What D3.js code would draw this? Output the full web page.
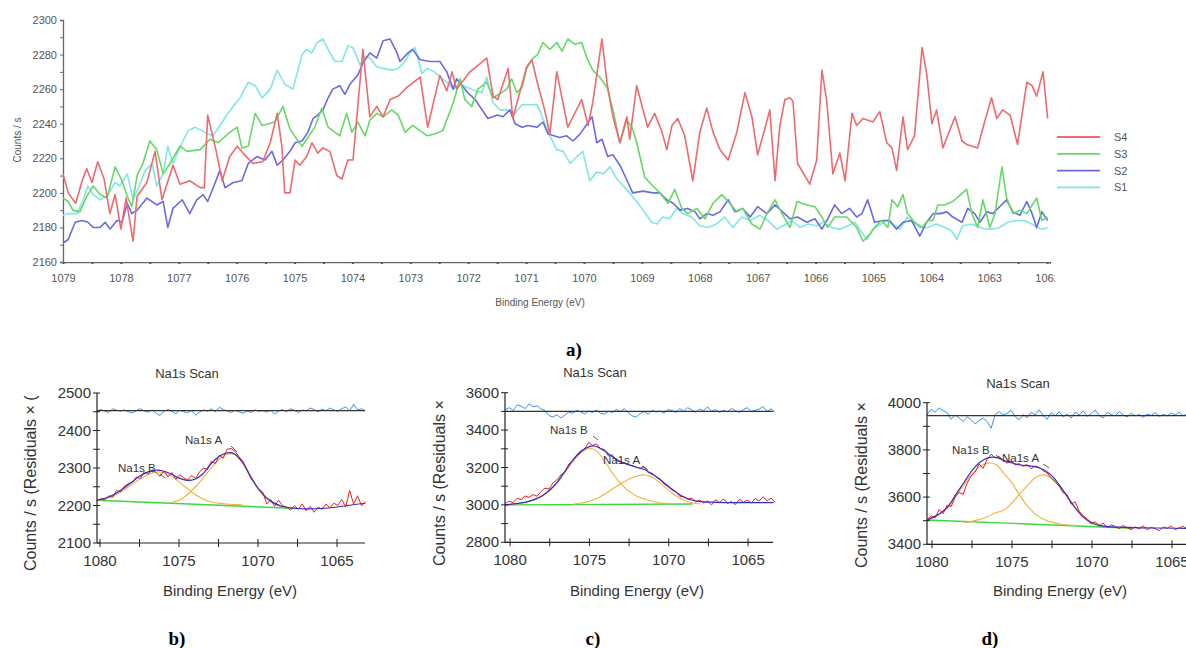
<!DOCTYPE html>
<html>
<head>
<meta charset="utf-8">
<script src="https://cdn.jsdelivr.net/npm/d3@7"></script>
<style>
  body { margin: 0; background: #fff; }
  svg { display: block; }
  text { font-family: "Liberation Sans", Arial, sans-serif; }
</style>
</head>
<body>
<svg id="chart" width="1186" height="648"></svg>
<script>
// ---- panel a: four Na1s survey traces, [binding energy eV, counts/s]
const seriesNames = ["S4", "S3", "S2", "S1"]
const seriesColors = ["#ee6a6d", "#66d866", "#6a6ae4", "#80e6e6"]

const s4 = [[1079.00,2211],[1078.91,2200],[1078.78,2194],[1078.67,2207],[1078.59,2214],[1078.50,2206],[1078.40,2218],[1078.29,2208],[1078.19,2188],[1078.10,2199],[1078.00,2179],[1077.91,2197],[1077.79,2172],[1077.72,2198],[1077.55,2206],[1077.41,2224],[1077.29,2196],[1077.10,2216],[1076.98,2205],[1076.81,2207],[1076.63,2203],[1076.56,2203],[1076.50,2245],[1076.36,2225],[1076.25,2207],[1076.12,2221],[1075.99,2227],[1075.89,2223],[1075.72,2217],[1075.55,2218],[1075.42,2229],[1075.30,2246],[1075.22,2227],[1075.17,2200],[1075.08,2200],[1074.99,2219],[1074.91,2216],[1074.79,2221],[1074.70,2229],[1074.60,2223],[1074.51,2226],[1074.39,2224],[1074.27,2210],[1074.18,2208],[1074.08,2219],[1073.99,2219],[1073.82,2283],[1073.70,2244],[1073.58,2250],[1073.47,2244],[1073.35,2254],[1073.21,2256],[1073.06,2261],[1072.83,2267],[1072.70,2238],[1072.49,2268],[1072.37,2259],[1072.28,2270],[1072.20,2260],[1071.97,2270],[1071.68,2278],[1071.57,2256],[1071.49,2254],[1071.31,2272],[1071.23,2243],[1070.99,2273],[1070.90,2277],[1070.80,2263],[1070.68,2248],[1070.59,2234],[1070.47,2270],[1070.28,2238],[1070.04,2254],[1069.93,2239],[1069.85,2252],[1069.69,2289],[1069.60,2263],[1069.50,2244],[1069.38,2229],[1069.26,2244],[1069.21,2231],[1069.09,2262],[1068.98,2248],[1068.90,2238],[1068.78,2246],[1068.66,2236],[1068.57,2225],[1068.48,2239],[1068.38,2243],[1068.26,2233],[1068.12,2207],[1068.00,2235],[1067.88,2249],[1067.77,2235],[1067.65,2225],[1067.51,2219],[1067.36,2235],[1067.22,2258],[1067.10,2244],[1067.00,2222],[1066.87,2238],[1066.79,2248],[1066.70,2207],[1066.62,2238],[1066.53,2254],[1066.44,2255],[1066.39,2253],[1066.31,2217],[1066.10,2205],[1065.98,2219],[1065.89,2271],[1065.81,2254],[1065.70,2211],[1065.58,2223],[1065.49,2207],[1065.37,2246],[1065.29,2239],[1065.18,2243],[1065.01,2241],[1064.89,2247],[1064.77,2229],[1064.68,2226],[1064.60,2213],[1064.49,2244],[1064.41,2225],[1064.29,2233],[1064.16,2284],[1064.08,2269],[1063.99,2240],[1063.91,2248],[1063.80,2226],[1063.59,2244],[1063.47,2230],[1063.39,2228],[1063.20,2226],[1063.08,2241],[1062.96,2255],[1062.87,2243],[1062.77,2248],[1062.64,2245],[1062.51,2228],[1062.35,2264],[1062.26,2262],[1062.18,2256],[1062.07,2270],[1061.99,2243]]

const s3 = [[1079.00,2197],[1078.91,2195],[1078.83,2190],[1078.71,2189],[1078.59,2198],[1078.48,2204],[1078.36,2199],[1078.24,2197],[1078.10,2215],[1077.98,2207],[1077.89,2198],[1077.81,2192],[1077.72,2210],[1077.62,2217],[1077.50,2230],[1077.38,2225],[1077.27,2211],[1077.15,2217],[1076.98,2227],[1076.86,2224],[1076.63,2225],[1076.46,2231],[1076.32,2229],[1076.12,2235],[1075.99,2238],[1075.91,2226],[1075.80,2227],[1075.68,2246],[1075.56,2239],[1075.34,2241],[1075.20,2250],[1075.08,2237],[1074.96,2231],[1074.87,2227],[1074.65,2238],[1074.53,2249],[1074.42,2238],[1074.22,2233],[1074.10,2246],[1074.01,2235],[1073.91,2241],[1073.78,2233],[1073.70,2242],[1073.58,2246],[1073.47,2244],[1073.32,2248],[1073.21,2245],[1073.09,2235],[1072.96,2239],[1072.71,2233],[1072.58,2234],[1072.44,2236],[1072.26,2252],[1072.14,2266],[1072.06,2254],[1071.94,2250],[1071.83,2260],[1071.68,2264],[1071.57,2255],[1071.33,2260],[1071.25,2266],[1071.16,2258],[1071.07,2261],[1070.99,2272],[1070.88,2278],[1070.80,2280],[1070.71,2287],[1070.59,2283],[1070.47,2287],[1070.38,2282],[1070.28,2289],[1070.16,2286],[1070.04,2287],[1069.95,2278],[1069.85,2271],[1069.73,2267],[1069.60,2261],[1069.50,2248],[1069.38,2229],[1069.26,2242],[1069.17,2238],[1069.09,2229],[1068.95,2209],[1068.81,2204],[1068.69,2200],[1068.55,2194],[1068.43,2202],[1068.31,2191],[1068.21,2188],[1068.05,2191],[1067.91,2185],[1067.77,2194],[1067.62,2199],[1067.51,2195],[1067.36,2189],[1067.26,2191],[1067.10,2182],[1066.96,2179],[1066.84,2188],[1066.70,2196],[1066.58,2188],[1066.44,2180],[1066.32,2195],[1066.15,2193],[1066.01,2192],[1065.89,2186],[1065.79,2180],[1065.67,2186],[1065.46,2186],[1065.29,2180],[1065.18,2172],[1065.06,2176],[1064.98,2180],[1064.86,2184],[1064.75,2180],[1064.68,2196],[1064.58,2192],[1064.49,2199],[1064.41,2188],[1064.29,2183],[1064.16,2180],[1064.06,2184],[1063.97,2184],[1063.89,2193],[1063.77,2193],[1063.63,2195],[1063.39,2202],[1063.30,2188],[1063.20,2180],[1063.11,2196],[1062.99,2180],[1062.90,2188],[1062.78,2215],[1062.70,2197],[1062.59,2188],[1062.47,2190],[1062.35,2188],[1062.18,2197],[1062.09,2184],[1061.99,2186]]

const s2 = [[1079.00,2171],[1078.91,2173],[1078.79,2183],[1078.67,2184],[1078.57,2183],[1078.48,2180],[1078.36,2180],[1078.27,2183],[1078.19,2179],[1078.07,2184],[1077.98,2183],[1077.89,2194],[1077.81,2188],[1077.72,2190],[1077.55,2197],[1077.38,2193],[1077.27,2195],[1077.19,2180],[1077.10,2191],[1076.94,2196],[1076.81,2188],[1076.69,2196],[1076.58,2199],[1076.50,2195],[1076.37,2206],[1076.29,2213],[1076.20,2203],[1076.06,2206],[1075.91,2207],[1075.80,2217],[1075.65,2221],[1075.51,2219],[1075.39,2224],[1075.30,2216],[1075.20,2219],[1075.08,2224],[1074.99,2229],[1074.87,2230],[1074.77,2235],[1074.68,2243],[1074.60,2245],[1074.51,2248],[1074.42,2255],[1074.34,2260],[1074.22,2262],[1074.13,2257],[1074.04,2263],[1073.91,2268],[1073.82,2275],[1073.70,2281],[1073.58,2278],[1073.47,2288],[1073.35,2289],[1073.23,2281],[1073.18,2276],[1073.04,2281],[1072.96,2283],[1072.83,2277],[1072.66,2276],[1072.49,2276],[1072.37,2270],[1072.26,2260],[1072.20,2266],[1072.01,2258],[1071.88,2254],[1071.76,2248],[1071.66,2243],[1071.50,2245],[1071.40,2244],[1071.28,2248],[1071.19,2240],[1071.07,2238],[1070.97,2239],[1070.81,2238],[1070.71,2241],[1070.62,2234],[1070.42,2232],[1070.30,2233],[1070.19,2230],[1070.07,2234],[1069.86,2244],[1069.78,2229],[1069.69,2231],[1069.59,2221],[1069.50,2222],[1069.38,2216],[1069.24,2206],[1069.16,2200],[1068.98,2201],[1068.81,2200],[1068.69,2200],[1068.57,2196],[1068.46,2194],[1068.34,2190],[1068.21,2191],[1068.08,2189],[1068.00,2185],[1067.88,2188],[1067.77,2187],[1067.65,2189],[1067.51,2196],[1067.39,2189],[1067.26,2191],[1067.13,2186],[1067.00,2192],[1066.84,2188],[1066.70,2193],[1066.44,2185],[1066.31,2186],[1066.15,2183],[1066.01,2185],[1065.89,2179],[1065.79,2185],[1065.67,2193],[1065.55,2188],[1065.41,2191],[1065.29,2186],[1065.20,2188],[1065.10,2196],[1064.98,2183],[1064.84,2184],[1064.72,2184],[1064.60,2179],[1064.49,2183],[1064.34,2184],[1064.20,2175],[1064.08,2183],[1063.97,2188],[1063.85,2188],[1063.73,2189],[1063.63,2186],[1063.47,2183],[1063.37,2191],[1063.25,2188],[1063.16,2183],[1063.04,2189],[1062.94,2188],[1062.70,2196],[1062.59,2189],[1062.47,2187],[1062.35,2195],[1062.26,2188],[1062.18,2180],[1062.09,2189],[1061.99,2184]]

const s1 = [[1079.00,2187],[1078.91,2188],[1078.76,2188],[1078.65,2196],[1078.57,2204],[1078.48,2199],[1078.36,2196],[1078.24,2198],[1078.10,2206],[1078.02,2204],[1077.89,2211],[1077.79,2196],[1077.67,2205],[1077.58,2213],[1077.46,2217],[1077.38,2204],[1077.27,2211],[1077.19,2227],[1077.10,2217],[1076.94,2229],[1076.84,2236],[1076.72,2238],[1076.60,2236],[1076.50,2234],[1076.41,2233],[1076.29,2239],[1076.17,2245],[1076.06,2250],[1075.94,2255],[1075.80,2264],[1075.68,2262],[1075.56,2255],[1075.42,2260],[1075.30,2271],[1075.17,2263],[1075.03,2260],[1074.87,2280],[1074.79,2283],[1074.70,2281],[1074.61,2287],[1074.51,2289],[1074.42,2283],[1074.30,2276],[1074.18,2276],[1074.08,2285],[1073.99,2284],[1073.87,2274],[1073.78,2279],[1073.70,2278],[1073.58,2273],[1073.47,2272],[1073.32,2271],[1073.21,2272],[1073.09,2276],[1073.01,2281],[1072.92,2284],[1072.80,2269],[1072.71,2272],[1072.58,2270],[1072.49,2267],[1072.37,2264],[1072.26,2260],[1072.14,2263],[1072.01,2261],[1071.88,2259],[1071.76,2258],[1071.68,2267],[1071.57,2252],[1071.45,2248],[1071.33,2248],[1071.19,2246],[1071.07,2251],[1070.81,2251],[1070.71,2243],[1070.59,2233],[1070.47,2225],[1070.36,2224],[1070.24,2217],[1070.12,2221],[1070.02,2224],[1069.90,2207],[1069.78,2212],[1069.67,2211],[1069.55,2215],[1069.43,2208],[1069.24,2201],[1069.09,2195],[1068.98,2190],[1068.83,2183],[1068.74,2182],[1068.64,2186],[1068.52,2185],[1068.40,2191],[1068.29,2188],[1068.14,2186],[1068.00,2181],[1067.86,2180],[1067.71,2182],[1067.57,2186],[1067.43,2180],[1067.27,2186],[1067.13,2184],[1066.96,2187],[1066.82,2184],[1066.67,2179],[1066.56,2181],[1066.41,2184],[1066.27,2180],[1066.13,2182],[1065.98,2181],[1065.87,2183],[1065.72,2180],[1065.58,2179],[1065.44,2181],[1065.32,2183],[1065.24,2179],[1065.11,2173],[1065.01,2179],[1064.77,2184],[1064.54,2179],[1064.42,2186],[1064.32,2183],[1064.20,2180],[1064.06,2180],[1063.91,2182],[1063.77,2180],[1063.65,2178],[1063.56,2173],[1063.46,2181],[1063.30,2182],[1063.16,2180],[1063.04,2179],[1062.94,2179],[1062.82,2180],[1062.68,2183],[1062.52,2184],[1062.39,2184],[1062.26,2182],[1062.18,2180],[1062.07,2179],[1061.99,2180]]

// ---- panels b, c, d: Na1s fits
const scanStep = 0.25
const bScanStart = 1080.2
const bScan = [2212,2218,2214,2226,2222,2240,2236,2252,2258,2262,2276,2272,2290,2284,2296,2288,2278,2292,2276,2288,2270,2282,2274,2268,2280,2272,2290,2300,2296,2318,2312,2334,2326,2350,2352,2344,2330,2318,2296,2272,2258,2244,2236,2204,2216,2198,2214,2200,2196,2188,2200,2190,2204,2186,2198,2182,2196,2190,2204,2194,2206,2200,2216,2196,2240,2204,2226,2200,2210]
const bResid = [2450,2456,2452,2448,2458,2454,2452,2455,2450,2447,2453,2458,2452,2449,2455,2446,2440,2452,2456,2451,2445,2454,2450,2448,2453,2441,2449,2455,2452,2458,2450,2462,2456,2452,2448,2454,2450,2446,2452,2448,2455,2451,2453,2449,2454,2444,2452,2456,2450,2458,2454,2448,2455,2452,2460,2456,2450,2457,2453,2460,2455,2451,2458,2463,2452,2470,2455,2458,2452]
const bEnvelope = [[1080.2,2214],[1079.5,2222],[1079,2232],[1078.5,2246],[1078,2262],[1077.5,2278],[1077,2289],[1076.5,2294],[1076,2292],[1075.5,2284],[1075,2273],[1074.5,2267],[1074,2270],[1073.5,2284],[1073,2310],[1072.5,2330],[1072,2340],[1071.5,2338],[1071,2316],[1070.5,2280],[1070,2246],[1069.5,2222],[1069,2207],[1068.5,2198],[1068,2194],[1067,2191],[1066,2192],[1065,2196],[1064,2202],[1063.2,2206]]
const bPeakB = [[1080.2,2214],[1079.5,2220],[1079,2228],[1078.5,2241],[1078,2256],[1077.5,2270],[1077,2282],[1076.5,2289],[1076,2288],[1075.5,2279],[1075,2263],[1074.5,2246],[1074,2230],[1073.5,2218],[1073,2210],[1072.5,2206],[1072,2204],[1071,2202]]
const bPeakA = [[1075.5,2208],[1075,2214],[1074.5,2228],[1074,2248],[1073.5,2272],[1073,2298],[1072.5,2322],[1072,2337],[1071.5,2336],[1071,2314],[1070.5,2278],[1070,2244],[1069.5,2220],[1069,2205],[1068.5,2197],[1068,2194],[1067.5,2192]]
const bBackground = [[1080.2,2214],[1067.5,2192]]

const cScanStart = 1080.3
const cScan = [3008,3020,3012,3036,3028,3048,3040,3055,3046,3072,3090,3084,3118,3134,3160,3176,3218,3236,3262,3280,3300,3334,3318,3326,3300,3296,3262,3268,3236,3230,3222,3214,3210,3202,3196,3206,3172,3170,3150,3140,3112,3098,3080,3070,3046,3044,3030,3036,3016,3026,3010,3022,3000,3028,3012,3032,3008,3018,3002,3030,3014,3026,3010,3034,3020,3044,3022,3036,3016]
const cResid = [3510,3520,3505,3535,3528,3515,3540,3525,3530,3512,3505,3478,3470,3482,3465,3480,3496,3490,3505,3498,3486,3502,3494,3508,3490,3486,3500,3494,3510,3498,3515,3492,3476,3470,3488,3500,3484,3506,3496,3502,3490,3510,3505,3494,3515,3500,3520,3508,3496,3512,3505,3524,3500,3510,3494,3506,3498,3516,3504,3494,3510,3520,3500,3506,3512,3526,3500,3514,3496]
const cEnvelope = [[1080.3,3000],[1079.5,3008],[1079,3015],[1078.5,3028],[1078,3048],[1077.5,3080],[1077,3125],[1076.5,3185],[1076,3245],[1075.5,3290],[1075,3312],[1074.7,3315],[1074.3,3302],[1074,3285],[1073.5,3255],[1073,3230],[1072.5,3214],[1072,3200],[1071.5,3188],[1071,3162],[1070.5,3132],[1070,3098],[1069.5,3066],[1069,3040],[1068.5,3025],[1068,3018],[1067,3014],[1066,3012],[1065,3012],[1063.4,3012]]
const cPeakB = [[1080.3,3000],[1079.5,3007],[1079,3014],[1078.5,3026],[1078,3046],[1077.5,3077],[1077,3120],[1076.5,3178],[1076,3236],[1075.5,3280],[1075,3303],[1074.5,3285],[1074,3228],[1073.5,3165],[1073,3112],[1072.5,3072],[1072,3046],[1071.5,3030],[1071,3018],[1070.5,3010],[1070,3006]]
const cPeakA = [[1076,3003],[1075.5,3010],[1075,3020],[1074.5,3036],[1074,3060],[1073.5,3088],[1073,3114],[1072.5,3138],[1072,3155],[1071.5,3160],[1071,3146],[1070.5,3114],[1070,3078],[1069.5,3046],[1069,3024],[1068.5,3010],[1068,3005]]
const cBackground = [[1080.3,3000],[1068.5,3005]]

const dScanStart = 1080.3
const dScan = [3505,3520,3512,3548,3530,3566,3560,3600,3620,3612,3660,3690,3706,3740,3722,3760,3782,3766,3772,3756,3744,3752,3736,3742,3730,3738,3720,3732,3726,3712,3702,3680,3664,3646,3618,3610,3570,3580,3540,3520,3508,3486,3496,3478,3490,3470,3482,3476,3466,3480,3470,3462,3474,3466,3478,3462,3472,3466,3458,3474,3468,3478,3462,3470,3476,3464]
const dResid = [3950,3972,3960,3978,3966,3958,3930,3948,3935,3920,3940,3928,3910,3925,3935,3920,3892,3950,3962,3948,3955,3968,3940,3928,3950,3936,3960,3948,3970,3945,3930,3958,3944,3962,3940,3952,3935,3960,3948,3966,3942,3955,3968,3946,3936,3960,3950,3944,3962,3948,3940,3956,3944,3950,3938,3952,3946,3958,3942,3950,3944,3956,3948,3960,3944,3952]
const dEnvelope = [[1080.3,3503],[1079.5,3531],[1079,3560],[1078.5,3612],[1078,3662],[1077.5,3712],[1077,3748],[1076.5,3766],[1076,3768],[1075.5,3755],[1075,3745],[1074.5,3736],[1074,3733],[1073.5,3728],[1073,3715],[1072.5,3690],[1072,3648],[1071.5,3598],[1071,3550],[1070.5,3512],[1070,3490],[1069.5,3479],[1069,3475],[1068,3472],[1067,3470],[1066,3469],[1063.3,3467]]
const dPeakB = [[1080.3,3503],[1079.5,3528],[1079,3555],[1078.5,3605],[1078,3652],[1077.5,3698],[1077,3730],[1076.5,3744],[1076,3738],[1075.5,3700],[1075,3660],[1074.5,3605],[1074,3560],[1073.5,3526],[1073,3505],[1072.5,3493],[1072,3486],[1071.5,3482],[1071,3480]]
const dPeakA = [[1078,3492],[1077.5,3498],[1077,3506],[1076.5,3518],[1076,3534],[1075.5,3545],[1075,3575],[1074.5,3615],[1074,3652],[1073.5,3684],[1073,3694],[1072.5,3680],[1072,3645],[1071.5,3598],[1071,3552],[1070.5,3515],[1070,3494],[1069.5,3482],[1069,3476]]
const dBackground = [[1080.3,3503],[1067.5,3468]]

const panelLetters = ["b)", "c)", "d)"]

const svg = d3.select("#chart")
svg.append("rect").attr("width", 1186).attr("height", 648).attr("fill", "#fff")

// ================= panel a =================
const ax = d3.scaleLinear().domain([1079, 1061.95]).range([63, 1050])
const ay = d3.scaleLinear().domain([2160, 2300]).range([262, 20])

svg.append("clipPath").attr("id", "aclip")
  .append("rect").attr("x", 0).attr("y", 0).attr("width", 1055).attr("height", 300)

const xAxisA = svg.append("g")
  .attr("transform", "translate(0,262)")
  .attr("clip-path", "url(#aclip)")
  .call(d3.axisBottom(ax)
    .tickValues(d3.range(1079, 1061.9, -0.5))
    .tickSize(2)
    .tickPadding(10)
    .tickFormat(d => Number.isInteger(d) ? d : ""))
xAxisA.select(".domain").attr("stroke", "#666").attr("stroke-width", 1.3)
xAxisA.selectAll(".tick line").attr("stroke", "#555").attr("stroke-width", 2).attr("y1", -1)
xAxisA.selectAll("text").attr("fill", "#555").style("font-size", "11px")

const yAxisA = svg.append("g")
  .attr("transform", "translate(63,0)")
  .call(d3.axisLeft(ay)
    .tickValues(d3.range(2160, 2301, 10))
    .tickSize(3)
    .tickPadding(3)
    .tickFormat(d => d % 20 === 0 ? d : ""))
yAxisA.select(".domain").attr("stroke", "#666").attr("stroke-width", 1.3)
yAxisA.selectAll(".tick line").attr("stroke", "#666")
yAxisA.selectAll("text").attr("fill", "#555").style("font-size", "11px")

const lineA = d3.line().x(d => ax(d[0])).y(d => ay(d[1]))
const topSeries = [s4, s3, s2, s1]
// draw S1 first so red sits on top
for (let i = topSeries.length - 1; i >= 0; i--) {
  svg.append("path")
    .datum(topSeries[i])
    .attr("fill", "none")
    .attr("stroke", seriesColors[i])
    .attr("stroke-width", 1.6)
    .attr("stroke-linejoin", "round")
    .attr("d", lineA)
}

const legend = svg.append("g")
seriesNames.forEach((name, i) => {
  const yy = 137 + i * 16.8
  legend.append("line")
    .attr("x1", 1057).attr("x2", 1100).attr("y1", yy).attr("y2", yy)
    .attr("stroke", seriesColors[i]).attr("stroke-width", 1.8)
  legend.append("text")
    .attr("x", 1114).attr("y", yy + 4)
    .attr("fill", "#555").style("font-size", "11px")
    .text(name)
})

svg.append("text")
  .attr("transform", "translate(21,140) rotate(-90)")
  .attr("text-anchor", "middle")
  .attr("fill", "#555").style("font-size", "10px")
  .text("Counts / s")
svg.append("text")
  .attr("x", 540).attr("y", 306)
  .attr("text-anchor", "middle")
  .attr("fill", "#555").style("font-size", "10px")
  .text("Binding Energy (eV)")
svg.append("text")
  .attr("x", 574).attr("y", 356)
  .attr("text-anchor", "middle")
  .style("font-family", "'Liberation Serif', serif")
  .style("font-weight", "bold").style("font-size", "19px")
  .text("a)")

// ================= panels b, c, d =================
const panels = [
  { left: 97, right: 365, top: 393, bottom: 543, eLeft: 1080.19, eRight: 1063.23,
    yDomain: [2100, 2500], major: 100, minor: 50, zero: 2453,
    scanStart: bScanStart, scan: bScan, resid: bResid,
    envelope: bEnvelope, peakA: bPeakA, peakB: bPeakB, background: bBackground,
    title: [187, 378], yLabel: [36, 571, "Counts / s  (Residuals × ("],
    xLabel: [230, 596], letter: [177, 645],
    labA: [185, 444], labB: [118, 472], leadA: [[231, 446], [237, 452]], leadB: [[160, 474], [165, 478]] },
  { left: 505, right: 773, top: 392.7, bottom: 542.3, eLeft: 1080.32, eRight: 1063.43,
    yDomain: [2800, 3600], major: 200, minor: 100, zero: 3500,
    scanStart: cScanStart, scan: cScan, resid: cResid,
    envelope: cEnvelope, peakA: cPeakA, peakB: cPeakB, background: cBackground,
    title: [595, 377], yLabel: [445, 566, "Counts / s  (Residuals ×"],
    xLabel: [637, 596], letter: [593, 645],
    labA: [603, 464], labB: [550, 434], leadA: [[642, 466], [648, 470]], leadB: [[593, 436], [598, 440]] },
  { left: 927, right: 1200, top: 402.7, bottom: 544.3, eLeft: 1080.31, eRight: 1063.25,
    yDomain: [3400, 4000], major: 200, minor: 100, zero: 3945,
    scanStart: dScanStart, scan: dScan, resid: dResid,
    envelope: dEnvelope, peakA: dPeakA, peakB: dPeakB, background: dBackground,
    title: [1018, 388], yLabel: [867, 568, "Counts / s  (Residuals ×"],
    xLabel: [1060, 596], letter: [990, 645],
    labA: [1002, 462], labB: [952, 454], leadA: [[1043, 464], [1049, 468]], leadB: [[996, 455], [1001, 459]] }
]

panels.forEach((p, pi) => {
  const g = svg.append("g")
  const x = d3.scaleLinear().domain([p.eLeft, p.eRight]).range([p.left, p.right])
  const y = d3.scaleLinear().domain(p.yDomain).range([p.bottom, p.top])
  const line = d3.line().x(d => x(d[0])).y(d => y(d[1]))
  const smooth = d3.line().x(d => x(d[0])).y(d => y(d[1])).curve(d3.curveCatmullRom)
  const scanPts = p.scan.map((v, i) => [p.scanStart - i * scanStep, v])
  const residPts = p.resid.map((v, i) => [p.scanStart - i * scanStep, v])

  // residual trace and its zero line
  g.append("path").datum(residPts)
    .attr("fill", "none").attr("stroke", "#3d8fe6").attr("stroke-width", 1)
    .attr("d", line)
  g.append("line")
    .attr("x1", p.left).attr("x2", p.right)
    .attr("y1", y(p.zero)).attr("y2", y(p.zero))
    .attr("stroke", "#333").attr("stroke-width", 1.3)

  // fit components
  g.append("path").datum(p.background)
    .attr("fill", "none").attr("stroke", "#3bd83b").attr("stroke-width", 1.4)
    .attr("d", line)
  ;[p.peakB, p.peakA].forEach(pk => {
    g.append("path").datum(pk)
      .attr("fill", "none").attr("stroke", "#f2b040").attr("stroke-width", 1.1)
      .attr("d", smooth)
  })
  g.append("path").datum(scanPts)
    .attr("fill", "none").attr("stroke", "#ee1c1c").attr("stroke-width", 1)
    .attr("d", line)
  g.append("path").datum(p.envelope)
    .attr("fill", "none").attr("stroke", "#3030c8").attr("stroke-width", 1.2)
    .attr("d", smooth)

  // axes
  g.append("line")
    .attr("x1", p.left).attr("x2", p.left).attr("y1", p.top).attr("y2", p.bottom)
    .attr("stroke", "#222").attr("stroke-width", 1.2)
  g.append("line")
    .attr("x1", p.left).attr("x2", p.right).attr("y1", p.bottom).attr("y2", p.bottom)
    .attr("stroke", "#222").attr("stroke-width", 1.2)

  const yTicks = d3.range(p.yDomain[0], p.yDomain[1] + 1, p.minor)
  g.selectAll(".yt").data(yTicks).join("line")
    .attr("x1", p.left - 4).attr("x2", p.left + 3)
    .attr("y1", d => y(d)).attr("y2", d => y(d))
    .attr("stroke", "#222")
  g.selectAll(".yl").data(yTicks.filter(d => (d - p.yDomain[0]) % p.major === 0)).join("text")
    .attr("x", p.left - 6).attr("y", d => y(d) + 5)
    .attr("text-anchor", "end")
    .attr("fill", "#333").style("font-size", "15px")
    .text(d => d)

  const xTicks = d3.range(1080, p.eRight - 0.01, -2.5)
  g.selectAll(".xt").data(xTicks).join("line")
    .attr("x1", d => x(d)).attr("x2", d => x(d))
    .attr("y1", p.bottom - 4).attr("y2", p.bottom + 4)
    .attr("stroke", "#222")
  g.selectAll(".xl").data(xTicks.filter(d => d % 5 === 0)).join("text")
    .attr("x", d => x(d)).attr("y", p.bottom + 23)
    .attr("text-anchor", "middle")
    .attr("fill", "#333").style("font-size", "15px")
    .text(d => d)

  g.append("text")
    .attr("x", p.title[0]).attr("y", p.title[1])
    .attr("text-anchor", "middle")
    .attr("fill", "#333").style("font-size", "13px")
    .text("Na1s Scan")
  g.append("text")
    .attr("transform", `translate(${p.yLabel[0]},${p.yLabel[1]}) rotate(-90)`)
    .attr("fill", "#333").style("font-size", "16px")
    .text(p.yLabel[2])
  g.append("text")
    .attr("x", p.xLabel[0]).attr("y", p.xLabel[1])
    .attr("text-anchor", "middle")
    .attr("fill", "#333").style("font-size", "15px")
    .text("Binding Energy (eV)")
  g.append("text")
    .attr("x", p.letter[0]).attr("y", p.letter[1])
    .attr("text-anchor", "middle")
    .style("font-family", "'Liberation Serif', serif")
    .style("font-weight", "bold").style("font-size", "19px")
    .text(panelLetters[pi])

  g.append("text")
    .attr("x", p.labA[0]).attr("y", p.labA[1])
    .attr("fill", "#333").style("font-size", "11.5px")
    .text("Na1s  A")
  g.append("text")
    .attr("x", p.labB[0]).attr("y", p.labB[1])
    .attr("fill", "#333").style("font-size", "11.5px")
    .text("Na1s B")
  ;[p.leadA, p.leadB].forEach(ld => {
    g.append("line")
      .attr("x1", ld[0][0]).attr("y1", ld[0][1]).attr("x2", ld[1][0]).attr("y2", ld[1][1])
      .attr("stroke", "#333").attr("stroke-width", 0.8)
  })
})
</script>
</body>
</html>
